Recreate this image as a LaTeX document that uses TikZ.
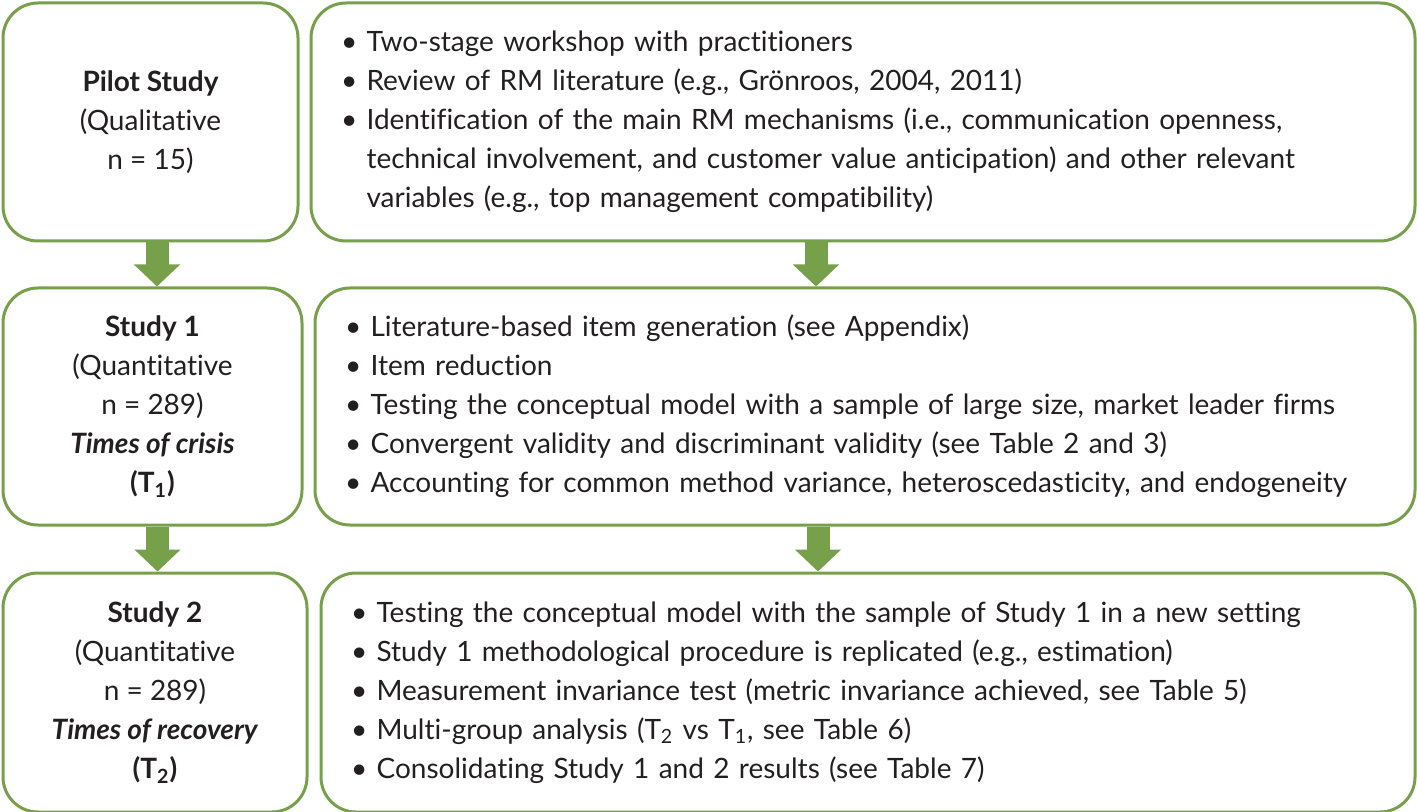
\documentclass[tikz,border=0pt]{standalone}
\usepackage{fontspec}
\setmainfont{Lato}[Ligatures=NoCommon]
\usepackage{xcolor}
\usepackage{tikz}
\usetikzlibrary{arrows.meta, positioning}

\definecolor{stagegreen}{RGB}{118,160,74}
\definecolor{textdark}{RGB}{35,31,32}

\newcommand{\bul}{\textbullet~}
\newcommand{\cont}{\phantom{\textbullet~}}

\begin{document}
\begin{tikzpicture}[x=0.5pt, y=-0.5pt, font=\fontsize{14}{19.5}\selectfont, text=textdark,
    stagebox/.style={draw=stagegreen, line width=1.5pt, rounded corners=17.5pt, rectangle, align=center, inner sep=0pt},
    infobox/.style={draw=stagegreen, line width=1.5pt, rounded corners=17.5pt, rectangle, align=left, inner xsep=15pt, inner ysep=0pt},
    flow/.style={stagegreen, line width=11.5pt, -{Triangle[width=22.5pt, length=11pt]}}]

\useasboundingbox (0,0) rectangle (1417,812);

% stages on the left
\node[stagebox, minimum width=147.5pt, minimum height=119pt] (pilot) at (150.5,122)
    {\textbf{Pilot Study}\\(Qualitative\\n = 15)};
\node[stagebox, minimum width=149.5pt, minimum height=118.5pt, below=22pt of pilot.south west, anchor=north west] (study1)
    {\textbf{Study 1}\\(Quantitative\\n = 289)\\\textbf{\textit{Times of crisis}}\\\textbf{(T\textsubscript{1})}};
\node[stagebox, minimum width=152pt, minimum height=119.5pt, below=22.5pt of study1.south west, anchor=north west] (study2)
    {\textbf{Study 2}\\(Quantitative\\n = 289)\\\textbf{\textit{Times of recovery}}\\\textbf{(T\textsubscript{2})}};

% what each stage does
\node[infobox, text width=522pt, minimum height=119pt, right=5pt of pilot] (pilotinfo)
    {\bul Two-stage workshop with practitioners\\
     \bul Review of RM literature (e.g., Grönroos, 2004, 2011)\\
     \bul Identification of the main RM mechanisms (i.e., communication openness,\\
     \cont technical involvement, and customer value anticipation) and other relevant\\
     \cont variables (e.g., top management compatibility)};
\node[infobox, text width=520pt, minimum height=118.5pt, right=5pt of study1] (study1info)
    {\bul Literature-based item generation (see Appendix)\\
     \bul Item reduction\\
     \bul Testing the conceptual model with a sample of large size, market leader firms\\
     \bul Convergent validity and discriminant validity (see Table 2 and 3)\\
     \bul Accounting for common method variance, heteroscedasticity, and endogeneity};
\node[infobox, text width=517pt, minimum height=119.5pt, right=5.5pt of study2] (study2info)
    {\bul Testing the conceptual model with the sample of Study 1 in a new setting\\
     \bul Study 1 methodological procedure is replicated (e.g., estimation)\\
     \bul Measurement invariance test (metric invariance achieved, see Table 5)\\
     \bul Multi-group analysis (T\textsubscript{2} vs T\textsubscript{1}, see Table 6)\\
     \bul Consolidating Study 1 and 2 results (see Table 7)};

% arrows
\coordinate (a1) at ([xshift=3.25pt]pilot.south);
\coordinate (a2) at ([xshift=2.5pt]study1.south);
\coordinate (b1) at ([xshift=-23.5pt]pilotinfo.south);
\coordinate (b2) at ([xshift=-23.5pt]study1info.south);
\draw[flow] (a1) -- (a1 |- study1.north);
\draw[flow] (a2) -- (a2 |- study2.north);
\draw[flow] (b1) -- (b1 |- study1info.north);
\draw[flow] (b2) -- (b2 |- study2info.north);
\end{tikzpicture}
\end{document}
